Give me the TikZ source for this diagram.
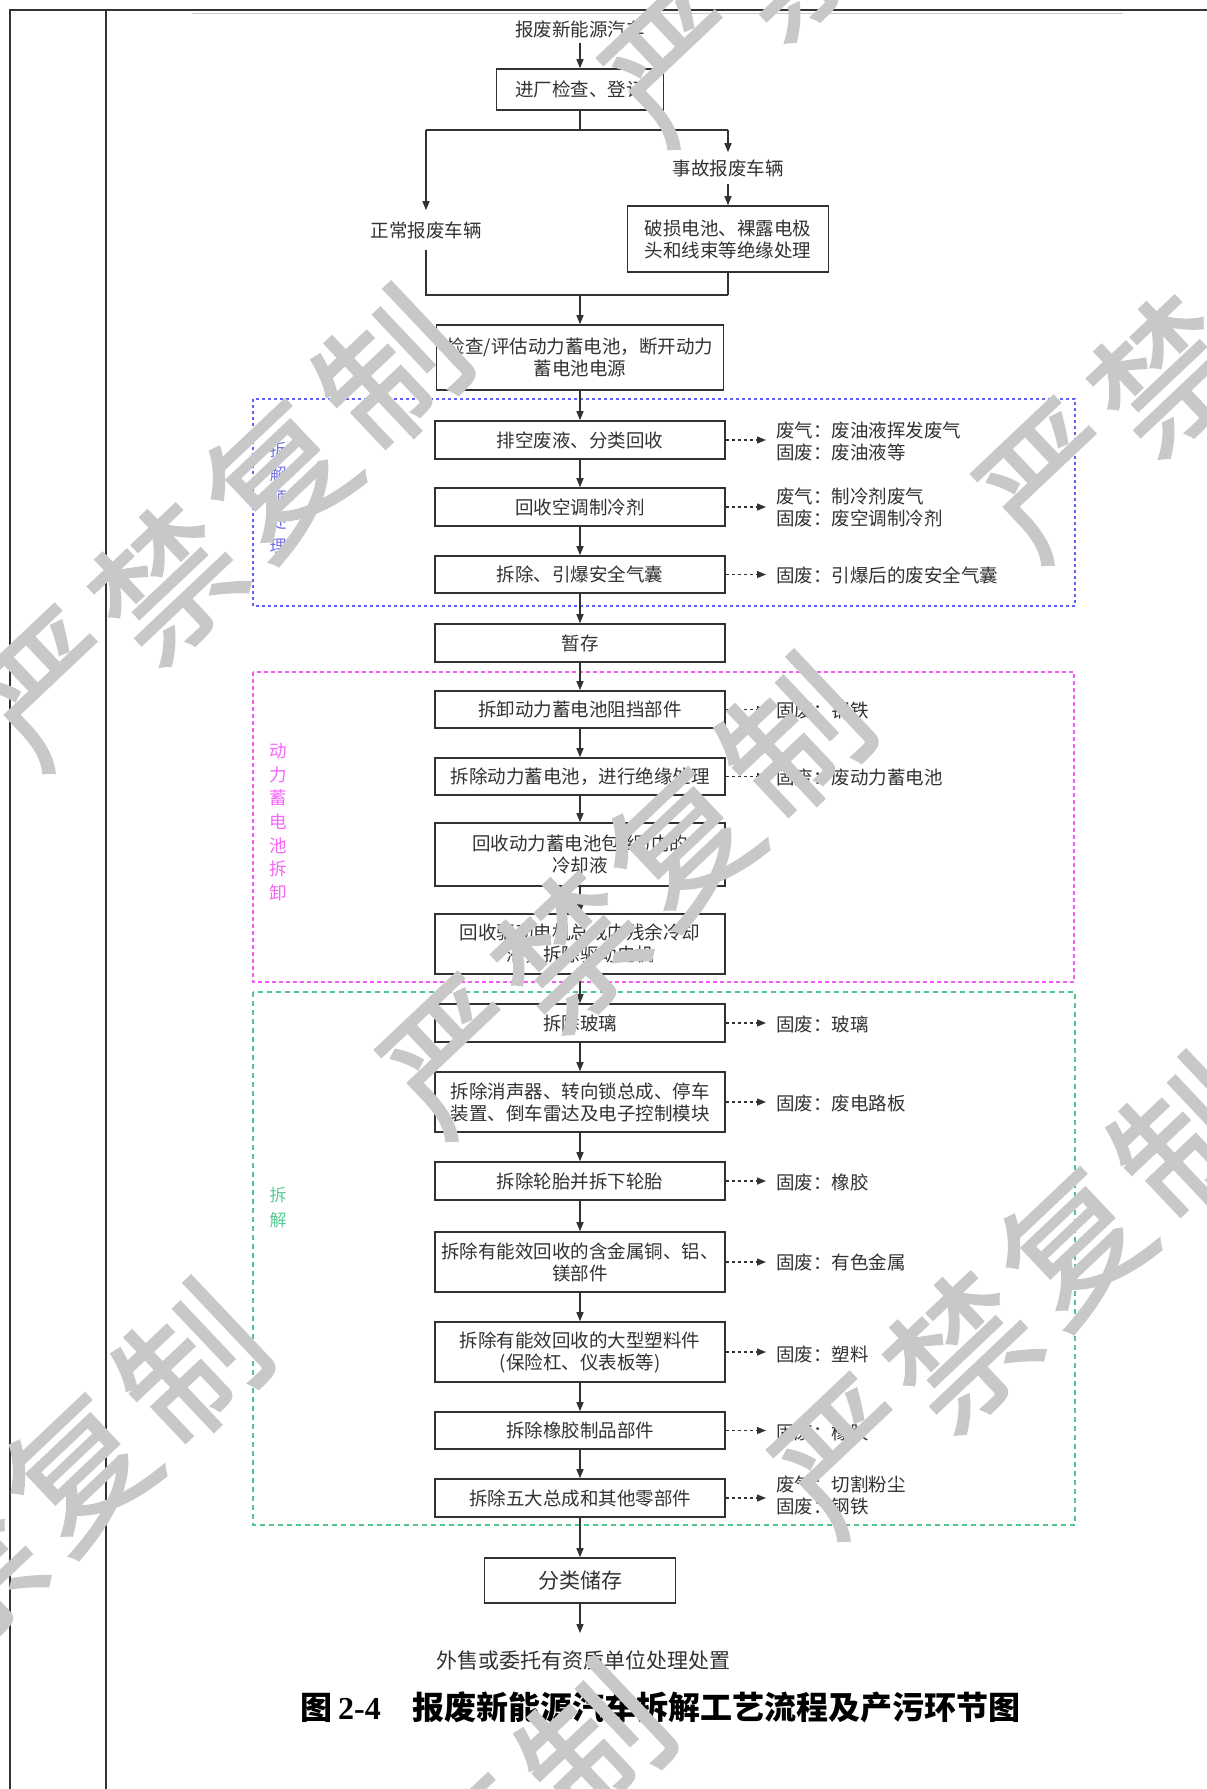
\documentclass[tikz,border=0pt]{standalone}
\usepackage{fontspec}
\setmainfont{Noto Sans CJK SC}
\newfontfamily\tnrfont{Liberation Serif}
\newfontfamily\wmfont{Noto Sans CJK SC}[FakeBold=1.6]
\usetikzlibrary{arrows.meta}

\definecolor{wmgray}{RGB}{200,200,200}
\definecolor{fblue}{RGB}{95,95,250}
\definecolor{fmag}{RGB}{245,90,245}
\definecolor{fgreen}{RGB}{80,200,140}
\definecolor{tblue}{RGB}{110,110,230}
\definecolor{tmag}{RGB}{250,100,250}
\definecolor{tgreen}{RGB}{90,205,150}
\definecolor{ink}{RGB}{50,50,50}

\newcommand\fsbody{\fontsize{18.5pt}{22pt}\selectfont}
\newcommand\fsbig{\fontsize{21pt}{25pt}\selectfont}

\begin{document}
\begin{tikzpicture}[x=1pt,y=-1pt,
  box/.style={draw=ink, line width=1.6pt, fill=white, minimum width=290pt,
    inner sep=0pt, align=center, font=\fsbody, text=ink},
  lbl/.style={font=\fsbody, text=ink, inner xsep=0pt},
  outtxt/.style={font=\fsbody, text=ink, align=left, anchor=west, inner xsep=10pt, inner ysep=0pt},
  arr/.style={line width=1.3pt, draw=ink, -{Triangle[length=9pt,width=7pt]}},
  ln/.style={line width=1.3pt, draw=ink},
  darr/.style={line width=1.3pt, draw=ink, dash pattern=on 3.5pt off 2.5pt, -{Triangle[length=9pt,width=7pt]}},
  bluefr/.style={draw=fblue, line width=1.8pt, dash pattern=on 3pt off 3pt},
  magfr/.style={draw=fmag, line width=1.8pt, dash pattern=on 4pt off 3pt},
  greenfr/.style={draw=fgreen, line width=1.8pt, dash pattern=on 5pt off 4pt},
  vlab/.style={align=center, inner sep=0pt},
  wm/.style={font=\wmfont\fontsize{142pt}{142pt}\selectfont, text=wmgray, rotate=43.4, inner sep=0pt}
]
\useasboundingbox (0,0) rectangle (1207,1789);
\fill[white] (0,0) rectangle (1207,1789);

% page frame
\draw[line width=2pt, draw=black!80] (9,10) -- (1207,10);
\draw[line width=1.2pt, draw=black!20] (192,13.5) -- (1123,13.5);
\draw[line width=2pt, draw=black!80] (9.5,10) -- (9.5,1789);
\draw[line width=2pt, draw=black!80] (106,10) -- (106,1789);

% group frames
\draw[bluefr] (253,399) rectangle (1075,606);
\draw[magfr] (253,672) rectangle (1074,982);
\draw[greenfr] (253,992) rectangle (1075,1525);

% group labels
\node[vlab, text=tblue, font=\fontsize{17pt}{24pt}\selectfont] (vl1) at (278,498) {拆\\解\\预\\处\\理};
\node[vlab, text=tmag, font=\fontsize{17.5pt}{23.6pt}\selectfont] (vl2) at (278,822) {动\\力\\蓄\\电\\池\\拆\\卸};
\node[vlab, text=tgreen, font=\fontsize{17pt}{25pt}\selectfont] (vl3) at (278,1208) {拆\\解};

% top part
\node[lbl, inner ysep=5pt] (src) at (580,29) {报废新能源汽车};
\node[box, minimum width=167pt, minimum height=41pt] (b1) at (580,89.5) {进厂检查、登记};
\coordinate (sC) at (580,130);
\coordinate (sL) at (426,130);
\coordinate (sR) at (728,130);
\node[lbl, inner ysep=7pt] (acc) at (728,168) {事故报废车辆};
\node[box, minimum width=201pt, minimum height=66pt] (b2) at (728,239) {破损电池、裸露电极\\头和线束等绝缘处理};
\node[lbl, inner ysep=11pt] (nor) at (426,230) {正常报废车辆};
\coordinate (mL) at (426,295);
\coordinate (mC) at (580,295);
\coordinate (mR) at (728,295);
\node[box, minimum width=287pt, minimum height=65pt] (b3) at (580,357.5) {检查/评估动力蓄电池，断开动力\\蓄电池电源};

\draw[arr] (src) -- (b1);
\draw[ln] (b1.south) -- (sC);
\draw[ln] (sL) -- (sR);
\draw[arr] (sR) -- (acc.north);
\draw[arr] (acc.south) -- (b2.north);
\draw[arr] (sL) -- (nor.north);
\draw[ln] (nor.south) -- (mL) -- (mR);
\draw[ln] (b2.south) -- (mR);
\draw[arr] (mC) -- (b3.north);

% main chain
\node[box, minimum height=38pt] (b4) at (580,440) {排空废液、分类回收};
\node[box, minimum height=38pt] (b5) at (580,507) {回收空调制冷剂};
\node[box, minimum height=37pt] (b6) at (580,574.5) {拆除、引爆安全气囊};
\node[box, minimum height=38pt] (b7) at (580,643) {暂存};
\node[box, minimum height=37pt] (b8) at (580,709.5) {拆卸动力蓄电池阻挡部件};
\node[box, minimum height=37pt] (b9) at (580,776.5) {拆除动力蓄电池，进行绝缘处理};
\node[box, minimum height=63pt] (b10) at (580,854.5) {回收动力蓄电池包(组)内的\\冷却液};
\node[box, minimum height=60pt] (b11) at (580,944) {回收驱动电机总成内残余冷却\\液，拆除驱动电机};
\node[box, minimum height=38pt] (b12) at (580,1023) {拆除玻璃};
\node[box, minimum height=60pt] (b13) at (580,1102) {拆除消声器、转向锁总成、停车\\装置、倒车雷达及电子控制模块};
\node[box, minimum height=38pt] (b14) at (580,1181) {拆除轮胎并拆下轮胎};
\node[box, minimum height=60pt] (b15) at (580,1262) {拆除有能效回收的含金属铜、铝、\\镁部件};
\node[box, minimum height=60pt] (b16) at (580,1352) {拆除有能效回收的大型塑料件\\(保险杠、仪表板等)};
\node[box, minimum height=37pt] (b17) at (580,1430.5) {拆除橡胶制品部件};
\node[box, minimum height=38pt] (b18) at (580,1498) {拆除五大总成和其他零部件};
\node[box, minimum width=191pt, minimum height=45pt, font=\fsbig] (b19) at (580,1580.5) {分类储存};
\node[lbl, font=\fsbig, inner ysep=17pt] (fin) at (583,1660) {外售或委托有资质单位处理处置};

\draw[arr] (b3) -- (b4);
\draw[arr] (b4) -- (b5);
\draw[arr] (b5) -- (b6);
\draw[arr] (b6) -- (b7);
\draw[arr] (b7) -- (b8);
\draw[arr] (b8) -- (b9);
\draw[arr] (b9) -- (b10);
\draw[arr] (b10) -- (b11);
\draw[arr] (b11) -- (b12);
\draw[arr] (b12) -- (b13);
\draw[arr] (b13) -- (b14);
\draw[arr] (b14) -- (b15);
\draw[arr] (b15) -- (b16);
\draw[arr] (b16) -- (b17);
\draw[arr] (b17) -- (b18);
\draw[arr] (b18) -- (b19);
\draw[arr] (b19.south) -- (b19.south |- fin.north);

% outputs
\node[outtxt] (o4) at (766,441) {废气：废油液挥发废气\\固废：废油液等};
\node[outtxt] (o5) at (766,507) {废气：制冷剂废气\\固废：废空调制冷剂};
\node[outtxt] (o6) at (766,575) {固废：引爆后的废安全气囊};
\node[outtxt] (o8) at (766,710) {固废：钢铁};
\node[outtxt] (o9) at (766,777) {固废：废动力蓄电池};
\node[outtxt] (o12) at (766,1024) {固废：玻璃};
\node[outtxt] (o13) at (766,1103) {固废：废电路板};
\node[outtxt] (o14) at (766,1182) {固废：橡胶};
\node[outtxt] (o15) at (766,1262) {固废：有色金属};
\node[outtxt] (o16) at (766,1354) {固废：塑料};
\node[outtxt] (o17) at (766,1432) {固废：橡胶};
\node[outtxt] (o18) at (766,1495) {废气：切割粉尘\\固废：钢铁};

\foreach \b/\o in {b4/o4,b5/o5,b6/o6,b8/o8,b9/o9,b12/o12,b13/o13,b14/o14,b15/o15,b16/o16,b17/o17,b18/o18}
  \draw[darr] (\b.east) -- (\b.east -| \o.west);

% caption
\node[anchor=west, inner sep=0pt, font=\fontsize{32pt}{36pt}\selectfont\bfseries] (cap) at (300,1707)
  {图\hspace{6pt}{\tnrfont\bfseries 2-4}\hspace{32pt}报废新能源汽车拆解工艺流程及产污环节图};

% watermark
\begin{scope}
\clip (0,0) rectangle (1207,1789);
\foreach \x/\y [count=\i] in {55/688, 458/1056, 850/1456, 1054/480, 680/64, -145/1682, 258/2062} {
  \node[wm] (wm\i a) at (\x,\y) {严};
  \node[wm] (wm\i b) at (\x+112,\y-106) {禁};
  \node[wm] (wm\i c) at (\x+224,\y-212) {复};
  \node[wm] (wm\i d) at (\x+336,\y-318) {制};
}
\end{scope}
\end{tikzpicture}
\end{document}
